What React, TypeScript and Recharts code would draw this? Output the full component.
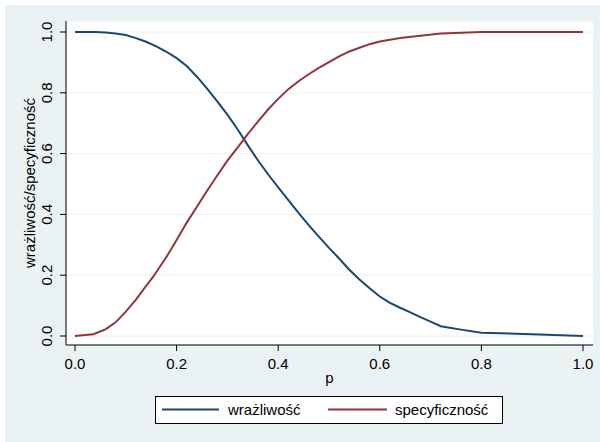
import React from 'react';
import { LineChart, Line, XAxis, YAxis, CartesianGrid } from 'recharts';

const pSens = [0, 0.02, 0.04, 0.06, 0.08, 0.1, 0.12, 0.14, 0.16, 0.18, 0.2, 0.22, 0.24, 0.26, 0.28, 0.3, 0.32, 0.34, 0.36, 0.38, 0.4, 0.42, 0.44, 0.46, 0.48, 0.5, 0.52, 0.54, 0.56, 0.58, 0.6, 0.62, 0.64, 0.66, 0.68, 0.7, 0.72, 0.76, 0.8, 0.9, 1.0];
const sens = [1.0, 1.0, 1.0, 0.998, 0.995, 0.99, 0.98, 0.968, 0.953, 0.935, 0.914, 0.888, 0.853, 0.814, 0.772, 0.728, 0.68, 0.628, 0.578, 0.532, 0.489, 0.447, 0.405, 0.365, 0.327, 0.29, 0.255, 0.218, 0.186, 0.157, 0.13, 0.109, 0.093, 0.078, 0.062, 0.047, 0.032, 0.021, 0.011, 0.006, 0.0];

const pSpec = [0, 0.02, 0.036, 0.06, 0.08, 0.1, 0.12, 0.14, 0.154, 0.18, 0.2, 0.22, 0.24, 0.26, 0.28, 0.3, 0.32, 0.34, 0.36, 0.38, 0.4, 0.42, 0.44, 0.46, 0.48, 0.5, 0.52, 0.54, 0.56, 0.58, 0.6, 0.64, 0.68, 0.72, 0.8, 0.9, 1.0];
const spec = [0, 0.003, 0.006, 0.022, 0.045, 0.08, 0.12, 0.165, 0.195, 0.26, 0.316, 0.373, 0.425, 0.478, 0.528, 0.577, 0.62, 0.664, 0.705, 0.745, 0.78, 0.812, 0.838, 0.861, 0.882, 0.901, 0.92, 0.936, 0.948, 0.96, 0.969, 0.98, 0.988, 0.995, 1.0, 1.0, 1.0];

const xTicks = [0, 0.2, 0.4, 0.6, 0.8, 1.0];
const yTicks = [0, 0.2, 0.4, 0.6, 0.8, 1.0];

const seriesNames = ['wrażliwość', 'specyficzność'];
const xLabel = 'p';
const yLabel = 'wrażliwość/specyficzność';

const BLUE = '#1a476f';
const RED = '#90353b';
const BG = '#eaf2f3';
const FONT = '"Liberation Sans", Arial, Helvetica, sans-serif';

const sensData = pSens.map((p, i) => ({ p, v: sens[i] }));
const specData = pSpec.map((p, i) => ({ p, v: spec[i] }));

const YTick = (props: any) => {
  const { x, y, payload } = props;
  return (
    <g transform={`translate(${x},${y})`}>
      <text transform="rotate(-90)" textAnchor="middle" fontSize={15} fill="#000" fontFamily={FONT}>
        {Number(payload.value).toFixed(1)}
      </text>
    </g>
  );
};

const YLabel = (props: any) => {
  const vb = props.viewBox || {};
  const cx = (vb.x ?? 0) + 35;
  const cy = (vb.y ?? 0) + (vb.height ?? 0) / 2;
  return (
    <text x={cx} y={cy} transform={`rotate(-90 ${cx} ${cy})`} textAnchor="middle" fontSize={15} fill="#000" fontFamily={FONT}>
      {yLabel}
    </text>
  );
};

const XLabel = (props: any) => {
  const vb = props.viewBox || {};
  const cx = (vb.x ?? 0) + (vb.width ?? 0) / 2;
  const cy = (vb.y ?? 0) + 38;
  return (
    <text x={cx} y={cy} textAnchor="middle" fontSize={15} fill="#000" fontFamily={FONT}>
      {xLabel}
    </text>
  );
};

export default function App() {
  return (
    <div style={{ position: 'absolute', left: 0, top: 0, width: 600, height: 442, background: '#fff', overflow: 'hidden' }}>
      <div style={{ position: 'absolute', left: 5, top: 5, width: 595, height: 437, background: BG }} />
      <div style={{ position: 'absolute', left: 0, top: 0 }}>
        <LineChart width={600} height={442} margin={{ top: 21, right: 7, left: 0, bottom: 57 }}>
          <CartesianGrid vertical={false} horizontal={true} stroke={BG} strokeWidth={1} fill="#fff" fillOpacity={1} />
          <XAxis
            dataKey="p"
            type="number"
            domain={[0, 1]}
            ticks={xTicks}
            tickFormatter={(v: number) => v.toFixed(1)}
            padding={{ left: 9, right: 10 }}
            height={40}
            tickSize={6}
            tickMargin={7}
            axisLine={{ stroke: '#000', strokeWidth: 1 }}
            tickLine={{ stroke: '#000', strokeWidth: 1 }}
            tick={{ fill: '#000', fontSize: 15, fontFamily: FONT }}
            allowDuplicatedCategory={false}
            label={{ content: XLabel }}
          />
          <YAxis
            type="number"
            domain={[0, 1]}
            ticks={yTicks}
            padding={{ top: 11, bottom: 9 }}
            width={66}
            tickSize={6}
            tickMargin={8}
            axisLine={{ stroke: '#000', strokeWidth: 1 }}
            tickLine={{ stroke: '#000', strokeWidth: 1 }}
            tick={<YTick />}
            label={{ content: YLabel }}
          />
          <Line data={sensData} dataKey="v" name={seriesNames[0]} type="linear" stroke={BLUE} strokeWidth={2} dot={false} isAnimationActive={false} />
          <Line data={specData} dataKey="v" name={seriesNames[1]} type="linear" stroke={RED} strokeWidth={2} dot={false} isAnimationActive={false} />
        </LineChart>
      </div>
      <svg style={{ position: 'absolute', left: 0, top: 0 }} width={600} height={442} pointerEvents="none">
        <rect x={155.5} y={396.5} width={347} height={27} fill="#fff" stroke="#000" strokeWidth={1} />
        <line x1={162} y1={409.5} x2={219} y2={409.5} stroke={BLUE} strokeWidth={2} />
        <text x={228} y={415} fontSize={15} fill="#000" fontFamily={FONT}>{seriesNames[0]}</text>
        <line x1={328} y1={409.5} x2={387} y2={409.5} stroke={RED} strokeWidth={2} />
        <text x={395} y={415} fontSize={15} fill="#000" fontFamily={FONT}>{seriesNames[1]}</text>
      </svg>
    </div>
  );
}
